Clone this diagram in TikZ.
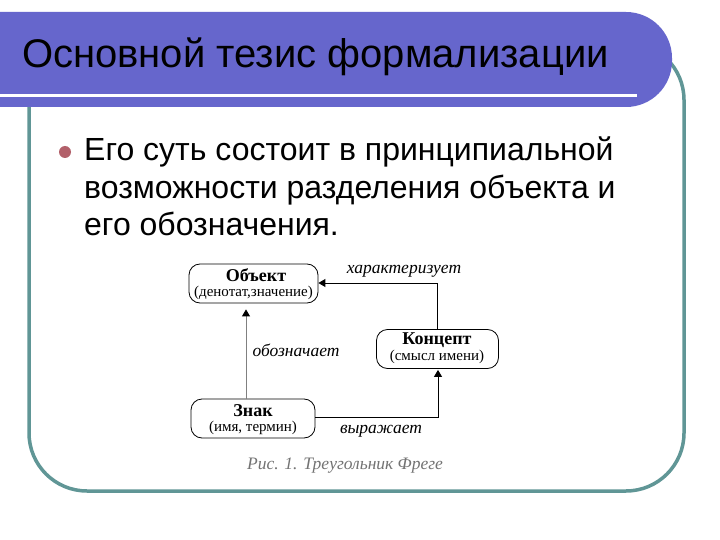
\documentclass[tikz,border=0pt]{standalone}
\usepackage{fontspec}
\setmainfont{Liberation Serif}
\newfontfamily\arialf{Liberation Sans}
\usetikzlibrary{arrows.meta}
\definecolor{barblue}{RGB}{102,102,204}
\definecolor{frameteal}{RGB}{96,150,150}
\definecolor{bulletred}{RGB}{178,96,106}
\definecolor{capgray}{RGB}{115,115,115}
\tikzset{
  fbox/.style={draw=black, line width=0.8pt, rounded corners=11pt, minimum width=#1, minimum height=39pt, inner sep=0pt},
  conn/.style={line width=0.9pt, -{Triangle[length=7pt,width=8pt,color=black,fill=black]}},
  lbl/.style={font=\fontsize{17.5}{17.5}\selectfont\itshape, inner sep=0pt},
  maint/.style={font=\fontsize{18}{18}\selectfont\bfseries, inner sep=0pt},
  subt/.style={font=\fontsize{15}{15}\selectfont, inner sep=0pt},
  bodyt/.style={font=\arialf\fontsize{32}{32}\selectfont, anchor=base west, inner sep=0pt}
}
\begin{document}
\begin{tikzpicture}[x=1pt,y=-1pt]
\useasboundingbox (0,0) rectangle (720,540);
\fill[white] (0,0) rectangle (720,540);
% frame
\draw[frameteal, line width=3.5pt, rounded corners=58pt] (29,42) rectangle (684,491);
% title bar
\fill[barblue, rounded corners=46pt] (-60,12) rectangle (672,107);
\fill[white] (0,94) rectangle (637,97);
\node[font=\arialf\fontsize{40}{40}\selectfont, anchor=base west, inner sep=0pt] (title) at (22,68) {Основной тезис формализации};
% bullet text
\fill[bulletred] (65,152) circle (6pt);
\node[bodyt] (l1) at (84,161) {Его суть состоит в принципиальной};
\node[bodyt] (l2) at (84,198.5) {возможности разделения объекта и};
\node[bodyt] (l3) at (84,236) {его обозначения.};
% diagram boxes
\node[fbox=129pt] (obj) at (253.5,283.5) {};
\node[maint, anchor=center] (objt) at (256,275) {Объект};
\node[subt, anchor=center] (objs) at (253.5,293) {(денотат,значение)};
\node[fbox=122pt] (kon) at (437.5,349) {};
\node[maint, anchor=center] (kont) at (437,340) {Концепт};
\node[subt, anchor=center] (kons) at (437,357) {(смысл имени)};
\node[fbox=124pt] (zn) at (253,418.5) {};
\node[maint, anchor=center] (znt) at (253,411) {Знак};
\node[subt, anchor=center] (zns) at (253,428) {(имя, термин)};
% connectors
\coordinate (c1) at (437.5,283);
\coordinate (c2) at (438,417);
\draw[conn] (kon.north) -- (c1) -- (obj.east |- c1);
\draw[conn, draw=gray] (zn.north -| 246,0) -- ([shift={(0,6)}]obj.south -| 246,0);
\draw[conn] (zn.east |- c2) -- (c2) -- ([shift={(0,1)}]kon.south -| c2);
% labels
\node[lbl] (l_char) at (404,271) {характеризует};
\node[lbl] (l_oboz) at (296,350) {обозначает};
\node[lbl] (l_vyr) at (381,431) {выражает};
\node[lbl, text=capgray] (cap) at (345,466) {Рис. 1. Треугольник Фреге};
\end{tikzpicture}
\end{document}
